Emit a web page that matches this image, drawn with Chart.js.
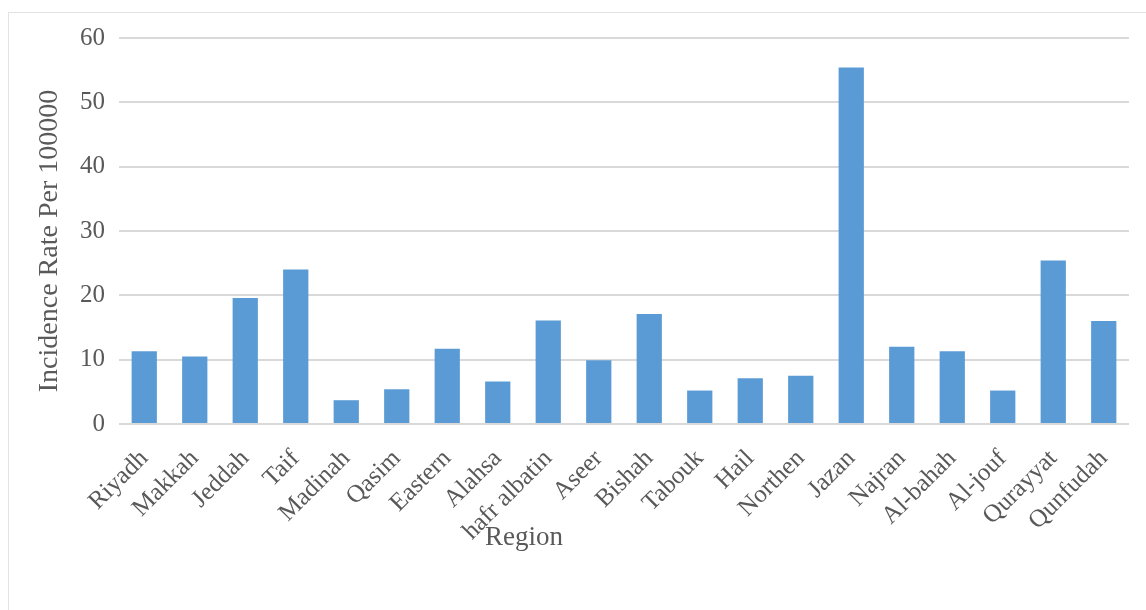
<!DOCTYPE html>
<html>
<head>
<meta charset="utf-8">
<script src="https://cdn.jsdelivr.net/npm/chart.js@4"></script>
<style>
  html, body { margin: 0; padding: 0; background: #fff; overflow: hidden; }
  #frame { position: absolute; left: 8px; top: 12px; width: 1200px; height: 700px; border: 1px solid #e3e3e3; }
  #incidence { position: absolute; left: 0; top: 0; }
</style>
</head>
<body>
<div id="frame"></div>
<canvas id="incidence" width="1146" height="610"></canvas>
<script>
var regions = ['Riyadh', 'Makkah', 'Jeddah', 'Taif', 'Madinah', 'Qasim', 'Eastern', 'Alahsa',
  'hafr albatin', 'Aseer', 'Bishah', 'Tabouk', 'Hail', 'Northen', 'Jazan', 'Najran',
  'Al-bahah', 'Al-jouf', 'Qurayyat', 'Qunfudah'];
var incidenceRates = [11.3, 10.5, 19.6, 24.0, 3.7, 5.4, 11.7, 6.6, 16.1, 9.9, 17.1, 5.2,
  7.1, 7.5, 55.4, 12.0, 11.3, 5.2, 25.4, 16.0];
var yTicks = [0, 10, 20, 30, 40, 50, 60];

var serif = "'Liberation Serif', 'Times New Roman', serif";
var textGray = '#595959';

// both axis titles are placed by hand, off-centre like the original
var axisTitles = {
  id: 'axisTitles',
  afterDraw: function (chart) {
    var c = chart.ctx;
    var area = chart.chartArea;
    c.save();
    c.fillStyle = textGray;
    c.textAlign = 'center';
    c.textBaseline = 'middle';
    c.font = '27px ' + serif;
    c.fillText('Region', area.left + 405, area.bottom + 114);
    c.translate(50, area.top + 203);
    c.rotate(-Math.PI / 2);
    c.font = '28px ' + serif;
    c.fillText('Incidence Rate Per 100000', 0, 0);
    c.restore();
  }
};

var ctx = document.getElementById('incidence');
var myChart = new Chart(ctx, {
  type: 'bar',
  data: {
    labels: regions,
    datasets: [{
      label: 'Incidence Rate Per 100000',
      data: incidenceRates,
      backgroundColor: '#5b9bd5',
      borderWidth: 0,
      categoryPercentage: 1,
      barPercentage: 0.5
    }]
  },
  options: {
    responsive: false,
    animation: false,
    layout: { padding: { left: 32, right: 17, top: 38, bottom: 0 } },
    plugins: {
      legend: { display: false },
      tooltip: { enabled: false }
    },
    scales: {
      x: {
        grid: { display: false, drawTicks: false },
        border: { display: false },
        ticks: {
          color: textGray,
          font: { family: serif, size: 25 },
          minRotation: 45,
          maxRotation: 45,
          padding: 20
        },
        afterFit: function (scale) { scale.height = 186; }
      },
      y: {
        min: 0,
        max: 60,
        afterBuildTicks: function (scale) {
          scale.ticks = yTicks.map(function (v) { return { value: v }; });
        },
        grid: { color: '#d9d9d9', lineWidth: 2, drawTicks: false },
        border: { display: false },
        ticks: {
          color: textGray,
          font: { family: serif, size: 25 },
          padding: 14
        },
        afterFit: function (scale) { scale.width = 87; }
      }
    }
  },
  plugins: [axisTitles]
});
</script>
</body>
</html>
